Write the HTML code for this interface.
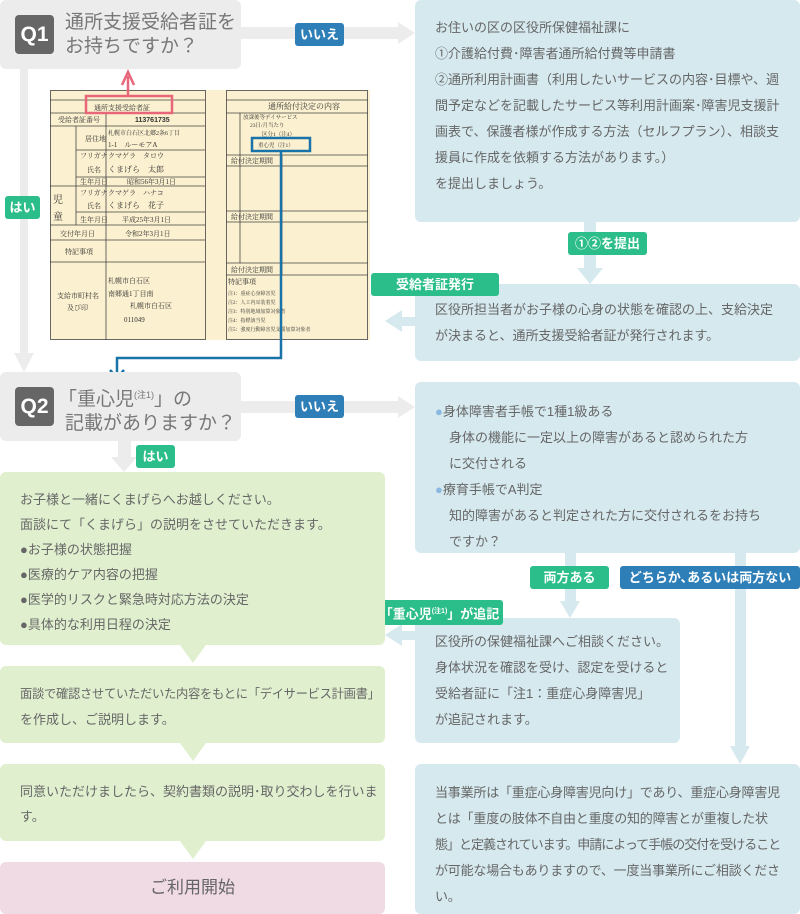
<!DOCTYPE html>
<html><head><meta charset="utf-8"><style>
*{margin:0;padding:0;box-sizing:border-box}
body{width:800px;height:914px;position:relative;background:#fff;font-family:"Liberation Sans","Noto Sans CJK JP",sans-serif;overflow:hidden}
.a{position:absolute}
.q{background:#ececec;border-radius:6px}
.qb{background:#666;color:#fff;border-radius:4px;font-size:21px;font-weight:bold;text-align:center;line-height:39px;width:39px;height:39px}
.qt{color:#777;font-size:19px;line-height:24px}
.bl{background:#d5e9ef;border-radius:6px;color:#666;font-size:13px;line-height:26px}
.gr{background:#e0f0cf;border-radius:6px;color:#666;font-size:13px;line-height:25px}
.tag{color:#fff;font-size:13px;font-weight:bold;text-align:center;border-radius:3px;line-height:23px}
.g{background:#2bbd8a}.b{background:#2e7fb8}
</style></head><body>
<svg class="a" style="left:0;top:0" width="800" height="914">
<rect x="240" y="27" width="160" height="12" fill="#ececec"/><polygon points="398,22 415,33 398,44" fill="#ececec"/>
<rect x="240" y="401" width="160" height="12" fill="#ececec"/><polygon points="398,396 415,407 398,418" fill="#ececec"/>
<rect x="20" y="69" width="8" height="285" fill="#ececec"/><polygon points="14,353 24,372 34,353" fill="#ececec"/>
<rect x="118" y="441" width="13" height="18" fill="#ececec"/><polygon points="111,457 124,472 137,457" fill="#ececec"/>
<rect x="584" y="222" width="12" height="48" fill="#d5e9ef"/><polygon points="577,268 590,284 603,268" fill="#d5e9ef"/>
<rect x="400" y="317" width="16" height="9" fill="#d5e9ef"/><polygon points="402,310 385,321 402,332" fill="#d5e9ef"/>
<rect x="565" y="553" width="11" height="50" fill="#d5e9ef"/><polygon points="560,601 570,618 580,601" fill="#d5e9ef"/>
<rect x="735" y="553" width="11" height="195" fill="#d5e9ef"/><polygon points="730,746 740,764 750,746" fill="#d5e9ef"/>
<rect x="400" y="631" width="16" height="9" fill="#d5e9ef"/><polygon points="402,624 385,635 402,646" fill="#d5e9ef"/>
<polygon points="180,645 206,645 193,663" fill="#e0f0cf"/>
<polygon points="180,743 206,743 193,761" fill="#e0f0cf"/>
<polygon points="180,841 206,841 193,859" fill="#e0f0cf"/>
<g font-family="Liberation Serif,Noto Serif CJK SC,serif" fill="#333" font-size="7">
<rect x="50" y="90" width="320" height="250" fill="#fbf0cf"/>
<g stroke="#444" stroke-width="0.8" fill="none">
<rect x="50.5" y="90.5" width="155" height="249"/>
<line x1="50" y1="100" x2="205" y2="100"/><line x1="50" y1="113" x2="205" y2="113"/>
<line x1="50" y1="126" x2="205" y2="126"/><line x1="76" y1="150" x2="205" y2="150"/>
<line x1="76" y1="177" x2="205" y2="177"/><line x1="50" y1="186" x2="205" y2="186"/>
<line x1="76" y1="212" x2="205" y2="212"/><line x1="50" y1="225" x2="205" y2="225"/>
<line x1="50" y1="240" x2="205" y2="240"/><line x1="50" y1="262" x2="205" y2="262"/>
<line x1="106" y1="113" x2="106" y2="340"/><line x1="76" y1="126" x2="76" y2="225"/>
<rect x="226.5" y="90.5" width="141" height="249"/>
<line x1="226" y1="100" x2="368" y2="100"/><line x1="226" y1="113" x2="368" y2="113"/>
<line x1="226" y1="155" x2="368" y2="155"/><line x1="226" y1="166" x2="368" y2="166"/>
<line x1="226" y1="211" x2="368" y2="211"/><line x1="226" y1="222" x2="368" y2="222"/>
<line x1="226" y1="263" x2="368" y2="263"/><line x1="226" y1="275" x2="368" y2="275"/>
<line x1="240" y1="113" x2="240" y2="263"/><line x1="282" y1="155" x2="282" y2="275"/>
</g>
<text x="94" y="110">通所支援受給者証</text>
<text x="58" y="122">受給者証番号</text><text x="135" y="122" font-weight="bold" font-family="Liberation Sans">113761735</text>
<text x="85" y="141">居住地</text><text x="108" y="135" font-size="6">札幌市白石区北郷2条6丁目</text><text x="108" y="147">1-1　ルーモアA</text>
<text x="80" y="158">フリガナ</text><text x="108" y="158">クマゲラ　タロウ</text>
<text x="87" y="172">氏名</text><text x="108" y="172" font-size="8">くまげら　太郎</text>
<text x="80" y="184">生年月日</text><text x="127" y="184">昭和56年3月1日</text>
<text x="53" y="203" font-size="10">児</text><text x="53" y="220" font-size="10">童</text>
<text x="80" y="195">フリガナ</text><text x="108" y="195">クマゲラ　ハナコ</text>
<text x="87" y="208">氏名</text><text x="108" y="208" font-size="8">くまげら　花子</text>
<text x="80" y="222">生年月日</text><text x="122" y="222">平成25年3月1日</text>
<text x="60" y="236">交付年月日</text><text x="125" y="236">令和2年3月1日</text>
<text x="65" y="254">特記事項</text>
<text x="57" y="298">支給市町村名</text><text x="67" y="310">及び印</text>
<text x="108" y="283">札幌市白石区</text><text x="108" y="296">南郷通1丁目南</text><text x="130" y="308">札幌市白石区</text><text x="124" y="322">011049</text>
<text x="268" y="109" font-size="8">通所給付決定の内容</text>
<text x="243" y="119" font-size="5.5">放課後等デイサービス</text><text x="250" y="127" font-size="5.5">23日/月当たり</text>
<text x="262" y="136" font-size="5.5">区分1（注4）</text><text x="258" y="147" font-size="5.5">重心児（注1）</text>
<text x="231" y="163">給付決定期間</text><text x="231" y="219">給付決定期間</text><text x="231" y="272">給付決定期間</text>
<text x="228" y="284">特記事項</text>
<text x="228" y="295" font-size="5">注1：重症心身障害児</text><text x="228" y="304" font-size="5">注2：人工内耳装着児</text>
<text x="228" y="313" font-size="5">注3：特別地域加算対象者</text><text x="228" y="322" font-size="5">注4：指標該当児</text>
<text x="228" y="331" font-size="5">注5：強度行動障害児支援加算対象者</text>
</g>
<rect x="86" y="96" width="86" height="17" fill="none" stroke="#e8667a" stroke-width="2.5"/>
<line x1="128" y1="96" x2="128" y2="76" stroke="#e8667a" stroke-width="2.5"/>
<polyline points="122,85 128,72 134,85" fill="none" stroke="#e8667a" stroke-width="2.5"/>
<rect x="252" y="138" width="58" height="13" fill="none" stroke="#1a73a8" stroke-width="2.5"/>
<polyline points="281,151 281,358 117,358 117,376" fill="none" stroke="#1a73a8" stroke-width="2.5"/>
<polyline points="110,370 117,378 124,370" fill="none" stroke="#1a73a8" stroke-width="2.5"/>
</svg>

<div class="a q" style="left:0;top:0;width:241px;height:69px"></div>
<div class="a qb" style="left:15px;top:15px">Q1</div>
<div class="a qt" style="left:65px;top:11px">通所支援受給者証を<br>お持ちですか？</div>
<div class="a tag b" style="left:295px;top:23px;width:49px">いいえ</div>
<div class="a tag g" style="left:5px;top:196px;width:35px">はい</div>

<div class="a bl" style="left:415px;top:0;width:385px;height:222px;padding:15px 10px 0 20px">お住いの区の区役所保健福祉課に<br>①介護給付費･障害者通所給付費等申請書<br>②通所利用計画書（利用したいサービスの内容･目標や、週間予定などを記載したサービス等利用計画案･障害児支援計画表で、保護者様が作成する方法（セルフプラン）、相談支援員に作成を依頼する方法があります。）<br>を提出しましょう。</div>
<div class="a tag g" style="left:568px;top:232px;width:79px">①②を提出</div>
<div class="a bl" style="left:415px;top:284px;width:385px;height:77px;padding:13px 22px 0 20px">区役所担当者がお子様の心身の状態を確認の上、支給決定が決まると、通所支援受給者証が発行されます。</div>
<div class="a tag g" style="left:371px;top:273px;width:128px">受給者証発行</div>

<div class="a q" style="left:0;top:372px;width:241px;height:69px"></div>
<div class="a qb" style="left:15px;top:387px">Q2</div>
<div class="a qt" style="left:58px;top:383px">「重心児<sup style="font-size:9px;vertical-align:7px">(注1)</sup>」の<br><span style="margin-left:7px">記載がありますか？</span></div>
<div class="a tag b" style="left:295px;top:395px;width:49px">いいえ</div>
<div class="a tag g" style="left:136px;top:445px;width:39px">はい</div>

<div class="a bl" style="left:415px;top:382px;width:385px;height:171px;padding:17px 30px 0 20px"><span style="color:#8ab8e0">●</span>身体障害者手帳で1種1級ある<br><span style="padding-left:14px">身体の機能に一定以上の障害があると認められた方</span><br><span style="padding-left:14px">に交付される</span><br><span style="color:#8ab8e0">●</span>療育手帳でA判定<br><div style="padding-left:14px">知的障害があると判定された方に交付されるをお持ちですか？</div></div>
<div class="a tag g" style="left:530px;top:566px;width:79px">両方ある</div>
<div class="a tag b" style="left:620px;top:566px;width:180px">どちらか､あるいは両方ない</div>
<div class="a bl" style="left:415px;top:618px;width:265px;height:125px;padding:11px 10px 0 20px">区役所の保健福祉課へご相談ください。<br>身体状況を確認を受け、認定を受けると<br>受給者証に「注1：重症心身障害児」<br>が追記されます。</div>
<div class="a tag g" style="left:376px;top:600px;width:127px">「重心児<sup style="font-size:7px">(注1)</sup>」が追記</div>
<div class="a bl" style="left:415px;top:764px;width:385px;height:150px;padding:16px 0 0 20px;white-space:nowrap;letter-spacing:-0.2px">当事業所は「重症心身障害児向け」であり、重症心身障害児<br>とは「重度の肢体不自由と重度の知的障害とが重複した状<br><span style="letter-spacing:-1px">態」と定義されています。申請によって手帳の交付を受けること</span><br>が可能な場合もありますので、一度当事業所にご相談くださ<br>い。</div>

<div class="a gr" style="left:0;top:472px;width:385px;height:173px;padding:15px 10px 0 20px">お子様と一緒にくまげらへお越しください。<br>面談にて「くまげら」の説明をさせていただきます。<br>●お子様の状態把握<br>●医療的ケア内容の把握<br>●医学的リスクと緊急時対応方法の決定<br>●具体的な利用日程の決定</div>
<div class="a gr" style="left:0;top:666px;width:385px;height:77px;padding:15px 0 0 20px"><span style="white-space:nowrap;font-size:12.3px;letter-spacing:-0.3px">面談で確認させていただいた内容をもとに「デイサービス計画書」</span><br>を作成し、ご説明します。</div>
<div class="a gr" style="left:0;top:764px;width:385px;height:77px;padding:15px 4px 0 20px">同意いただけましたら、契約書類の説明･取り交わしを行います。</div>
<div class="a" style="left:0;top:862px;width:385px;height:52px;background:#f0dae3;border-radius:6px;color:#666;font-size:17px;text-align:center;line-height:52px">ご利用開始</div>
</body></html>
